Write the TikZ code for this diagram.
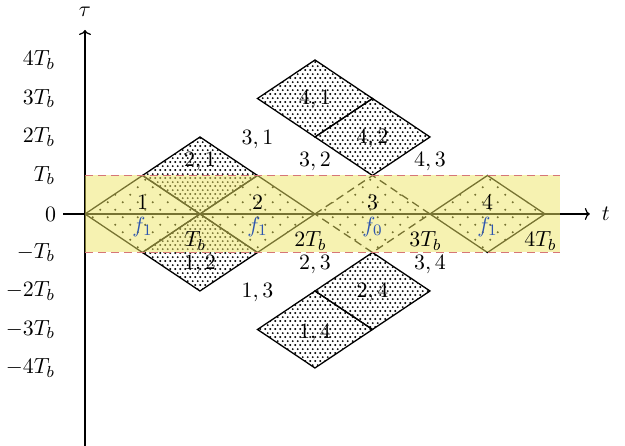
\documentclass[tikz,border=0pt]{standalone}
\usepackage{amsmath}
\usetikzlibrary{arrows.meta,patterns.meta}
\definecolor{bandyellow}{RGB}{238,230,100}
\definecolor{dashred}{RGB}{214,118,118}
\definecolor{fblue}{RGB}{45,85,175}
\tikzdeclarepattern{name=sparsedots,type=uncolored,
  bottom left={(0pt,0pt)},top right={(7.5pt,7.5pt)},tile size={(7.5pt,7.5pt)},
  code={\fill (1.875pt,1.875pt) circle (0.55pt); \fill (5.625pt,5.625pt) circle (0.55pt);}}
\tikzdeclarepattern{name=densedots,type=uncolored,
  bottom left={(0pt,0pt)},top right={(2.5pt,4.2pt)},tile size={(2.5pt,4.2pt)},
  code={\fill (0.625pt,1.05pt) circle (0.55pt); \fill (1.875pt,3.15pt) circle (0.55pt);}}

\begin{document}
\begin{tikzpicture}[x=57.5pt,y=19.25pt,font=\fontsize{11}{13}\selectfont,
    ax/.style={line width=0.6pt,-{To[length=2.5pt,width=6pt]}},
    slot/.style={draw,line width=0.65pt,pattern=sparsedots},
    cell/.style={draw,line width=0.65pt,pattern=densedots},
    pair/.style={inner sep=1pt}]
    \useasboundingbox (-0.739,-6.026) rectangle (4.696,5.558);
    \foreach \k in {0,1,3} \draw[slot] (\k,0) -- (\k+0.5,1) -- (\k+1,0) -- (\k+0.5,-1) -- cycle;
    \draw[slot,dash pattern=on 4pt off 2.5pt] (2,0) -- (2.5,1) -- (3,0) -- (2.5,-1) -- cycle;
    \foreach \cx/\cy in {1/1,1/-1,2/3,2.5/2,2.5/-2,2/-3}
      \draw[cell] (\cx-0.5,\cy) -- (\cx,\cy+1) -- (\cx+0.5,\cy) -- (\cx,\cy-1) -- cycle;
    \coordinate (t0) at (-0.19,0);
    \coordinate (t1) at (4.39,0);
    \coordinate (s0) at (0,-6.03);
    \coordinate (s1) at (0,4.78);
    \draw[ax] (t0) -- (t1);
    \draw[ax] (s0) -- (s1);
    \fill[bandyellow,fill opacity=0.5] (0,-1) rectangle (4.13,1);
    \foreach \y in {1,-1}
      \draw[dashred,line width=0.6pt,dash pattern=on 4pt off 2.5pt] (0,\y) -- (4.13,\y);
    \node (tau) at (0,5.25) {$\tau$};
    \node (tlab) at (4.53,0) {$t$};
    \node[left] (y0) at (t0) {$0$};
    \foreach \k/\txt in {4/4T_b,3/3T_b,2/2T_b,1/T_b,-1/-T_b,-2/-2T_b,-3/-3T_b,-4/-4T_b}
      \node[anchor=east] (y\k) at (-0.2,\k) {$\txt$};
    \foreach \k/\f in {1/1,2/1,3/0,4/1} {
      \node (d\k) at (\k-0.5,0.3) {$\k$};
      \node[fblue] (f\k) at (\k-0.5,-0.33) {$f_\f$};
    }
    \foreach \k/\txt in {1/T_b,2/2T_b,3/3T_b,4/4T_b}
      \node (x\k) at (\k-0.04,-0.7) {$\txt$};
    \foreach \a/\b/\px/\py in {3/1/1.5/1.92,3/2/2/1.35,4/3/3/1.35,2/3/2/-1.32,3/4/3/-1.32,1/3/1.5/-2.05,
                               2/1/1/1.35,1/2/1/-1.32,4/1/2/2.96,4/2/2.5/1.95,2/4/2.5/-2.05,1/4/2/-3.1}
      \node[pair] (p\a\b) at (\px,\py) {$\a,\b$};
  \end{tikzpicture}
\end{document}
